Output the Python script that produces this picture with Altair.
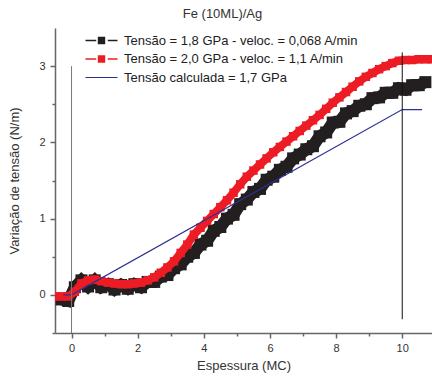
import altair as alt
import pandas as pd

S1 = "Tensão = 1,8 GPa - veloc. = 0,068 A/min"
S2 = "Tensão = 2,0 GPa - veloc. = 1,1 A/min"
S3 = "Tensão calculada = 1,7 GPa"

black_x = [-0.3, -0.1, 0.1, 0.3, 0.5, 0.7, 0.9, 1.1, 1.3, 1.5, 1.7, 1.9,
           2.1, 2.3, 2.5, 2.7, 2.9, 3.1, 3.3, 3.5, 3.7, 3.9, 4.1, 4.3, 4.5,
           4.7, 4.9, 5.1, 5.3, 5.5, 5.7, 5.9, 6.1, 6.3, 6.5, 6.7, 6.9, 7.1,
           7.3, 7.5, 7.7, 7.9, 8.1, 8.3, 8.5, 8.7, 8.9, 9.1, 9.3, 9.5, 9.7,
           9.9, 10.1, 10.3, 10.5, 10.7]
black_y = [-0.06, -0.08, 0.10, 0.19, 0.11, 0.19, 0.10, 0.14, 0.07, 0.13, 0.08, 0.14,
           0.10, 0.17, 0.17, 0.24, 0.26, 0.35, 0.40, 0.50, 0.55, 0.66, 0.71, 0.84, 0.89,
           1.00, 1.05, 1.19, 1.25, 1.35, 1.39, 1.51, 1.55, 1.64, 1.68, 1.79, 1.84, 1.91,
           1.95, 2.08, 2.13, 2.26, 2.27, 2.38, 2.41, 2.48, 2.50, 2.58, 2.59, 2.65, 2.65,
           2.71, 2.69, 2.75, 2.75, 2.79]

red_x = [-0.5, -0.3, -0.1, 0.1, 0.3, 0.5, 0.7, 0.9, 1.1, 1.3, 1.5, 1.7, 1.9,
         2.1, 2.3, 2.5, 2.7, 2.9, 3.1, 3.3, 3.5, 3.7, 3.9, 4.1, 4.3, 4.5,
         4.7, 4.9, 5.1, 5.3, 5.5, 5.7, 5.9, 6.1, 6.3, 6.5, 6.7, 6.9, 7.1,
         7.3, 7.5, 7.7, 7.9, 8.1, 8.3, 8.5, 8.7, 8.9, 9.1, 9.3, 9.5, 9.7,
         9.9, 10.1, 10.3, 10.5, 10.7, 10.9]
red_y = [-0.02, -0.02, -0.02, 0.04, 0.15, 0.19, 0.20, 0.18, 0.16, 0.15, 0.14, 0.14, 0.15,
         0.16, 0.19, 0.23, 0.29, 0.36, 0.44, 0.55, 0.66, 0.79, 0.88, 0.97, 1.06, 1.15,
         1.24, 1.34, 1.45, 1.55, 1.63, 1.71, 1.79, 1.87, 1.94, 2.01, 2.08, 2.15, 2.22,
         2.29, 2.36, 2.44, 2.52, 2.59, 2.66, 2.73, 2.80, 2.86, 2.91, 2.96, 3.00, 3.04,
         3.07, 3.08, 3.08, 3.09, 3.09, 3.09]

calc_x = [-0.25, 0.0, 10.0, 10.6]
calc_y = [0.0, 0.0, 2.43, 2.43]

marker_x = [0, 10]
marker_y1 = [-0.5, -0.32]
marker_y2 = [3.0, 3.18]
marker_c = ["#777777", "#111111"]

BLACK = "#231f20"
RED = "#ed1c24"
BLUE = "#2e3192"
FONT = "Liberation Sans"

P_SQ = "M-5.4,-0.15H-3.26V0.15H-5.4Z M-2.94,-0.74H-1.46V0.74H-2.94Z M-0.94,-0.15H1V0.15H-0.94Z"
P_LN = "M-5.4,-0.12H1V0.12H-5.4Z"

black_df = pd.DataFrame({"x": black_x, "y": black_y, "serie": S1})
red_df = pd.DataFrame({"x": red_x, "y": red_y, "serie": S2})
calc_df = pd.DataFrame({"x": calc_x, "y": calc_y, "serie": S3})
all_df = pd.concat([black_df, red_df, calc_df], ignore_index=True)
rules_df = pd.DataFrame({"x": marker_x, "y": marker_y1, "y2": marker_y2, "c": marker_c})

xs = alt.Scale(domain=[-0.5, 10.9], nice=False, zero=False)
ys = alt.Scale(domain=[-0.5, 3.5], nice=False, zero=False)

axis_common = dict(
    grid=False,
    domainColor="#666666", domainWidth=1.5,
    tickColor="#666666", tickWidth=1.5,
    labelColor="#333333", labelFontSize=11, labelFont=FONT,
    titleColor="#333333", titleFontSize=13, titleFont=FONT, titleFontWeight="normal",
)

xaxis = alt.Axis(
    title="Espessura (MC)",
    values=[0, 1, 2, 3, 4, 5, 6, 7, 8, 9, 10],
    labelExpr="datum.value % 2 === 0 ? '' + datum.value : ''",
    tickSize={"condition": {"test": "datum.value % 2 === 0", "value": 5}, "value": 3},
    labelPadding=4, titlePadding=6, labelFlush=False,
    **axis_common,
)
yaxis = alt.Axis(
    title="Variação de tensão (N/m)",
    values=[-0.5, 0, 0.5, 1, 1.5, 2, 2.5, 3],
    labelExpr="datum.value % 1 === 0 ? '' + datum.value : ''",
    tickSize={"condition": {"test": "datum.value % 1 === 0", "value": 5}, "value": 3},
    labelPadding=5, titlePadding=17, labelFlush=False,
    **axis_common,
)

X = alt.X("x:Q", scale=xs, axis=xaxis)
Y = alt.Y("y:Q", scale=ys, axis=yaxis)

black_band = alt.Chart(black_df).mark_line(color=BLACK, strokeWidth=12, clip=True).encode(x=X, y=Y)
black = alt.Chart(black_df).mark_square(size=144, color=BLACK, opacity=1, clip=True).encode(x=X, y=Y)
red_band = alt.Chart(red_df).mark_line(color=RED, strokeWidth=8, clip=True).encode(x=X, y=Y)
red = alt.Chart(red_df).mark_square(size=72, color=RED, opacity=1, clip=True).encode(x=X, y=Y)
calc = alt.Chart(calc_df).mark_line(color=BLUE, strokeWidth=1.2).encode(x=X, y=Y)
rules = alt.Chart(rules_df).mark_rule(strokeWidth=1).encode(
    x=X, y=Y, y2="y2:Q", color=alt.Color("c:N", scale=None)
)

leg = alt.Legend(
    orient="none", legendX=51, legendY=6, title=None,
    labelFontSize=13, labelFont=FONT, labelColor="#222222", labelLimit=400,
    symbolSize=100, symbolOpacity=1, symbolStrokeWidth=0,
    labelOffset=5, rowPadding=4.5, padding=0,
)
dom = [S1, S2, S3]
carrier = alt.Chart(all_df).mark_point(opacity=0, filled=True).encode(
    x=X, y=Y,
    color=alt.Color("serie:N", scale=alt.Scale(domain=dom, range=[BLACK, RED, BLUE]), legend=leg),
    shape=alt.Shape("serie:N", scale=alt.Scale(domain=dom, range=[P_SQ, P_SQ, P_LN]), legend=leg),
)

chart = alt.layer(carrier, black_band, black, red_band, red, calc, rules).properties(
    width=377, height=305,
    autosize=alt.AutoSizeParams(type="none"),
    padding={"left": 55, "right": 0, "top": 28, "bottom": 51},
    title=alt.TitleParams("Fe (10ML)/Ag", font=FONT, fontSize=13, fontWeight="normal",
                          color="#333333", anchor="middle", dx=-21, offset=-3,
                          baseline="alphabetic"),
).configure_view(stroke=None)

chart.save("out.html", embed_options={"renderer": "svg", "actions": False})
